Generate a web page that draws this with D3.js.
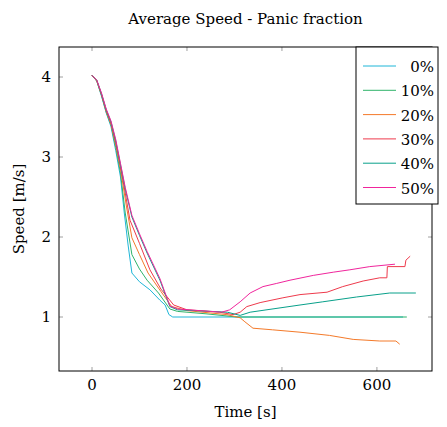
<!DOCTYPE html>
<html>
<head>
<meta charset="utf-8">
<script src="https://cdn.jsdelivr.net/npm/d3@7"></script>
<style>
  body { margin: 0; background: #fff; }
  svg text { font-family: "DejaVu Serif", serif; }
</style>
</head>
<body>
<div id="chart"></div>
<script>
var svgWidth = 447;
var svgHeight = 427;

var margin = { top: 47, right: 15, bottom: 56, left: 59 };
var width = svgWidth - margin.left - margin.right;
var height = svgHeight - margin.top - margin.bottom;

// series names and colours
var seriesNames = ["0%", "10%", "20%", "30%", "40%", "50%"];
var seriesColors = ["#1fb6d8", "#2fb36a", "#f47a2a", "#ee3a4c", "#08a08a", "#f0259c"];

var xTicks = [0, 200, 400, 600];
var yTicks = [1, 2, 3, 4];

// [time, speed]
var speed0 = [[0,4.02],[10,3.95],[20,3.76],[30,3.55],[40,3.38],[50,3.08],[60,2.75],[68,2.3],[76,1.9],[84,1.55],[100,1.44],[122,1.34],[143,1.21],[154,1.15],[162,1.03],[170,1.0],[655,1.0]];
var speed10 = [[0,4.02],[10,3.95],[20,3.77],[30,3.56],[40,3.4],[50,3.12],[60,2.8],[70,2.3],[84,1.78],[100,1.6],[116,1.46],[140,1.3],[164,1.1],[180,1.07],[240,1.04],[305,1.0],[663,1.0]];
var speed20 = [[0,4.02],[10,3.95],[20,3.78],[30,3.57],[40,3.41],[50,3.15],[60,2.85],[72,2.4],[84,1.99],[100,1.78],[118,1.55],[145,1.32],[168,1.13],[200,1.08],[250,1.05],[284,1.03],[312,0.99],[322,0.94],[339,0.86],[380,0.84],[438,0.81],[500,0.77],[550,0.72],[606,0.70],[640,0.70],[648,0.66]];
var speed30 = [[0,4.02],[10,3.96],[20,3.78],[30,3.58],[40,3.42],[50,3.18],[60,2.88],[70,2.55],[80,2.21],[100,1.92],[122,1.59],[145,1.35],[172,1.15],[200,1.09],[269,1.06],[297,1.03],[312,1.06],[326,1.13],[354,1.18],[402,1.24],[438,1.28],[495,1.31],[528,1.38],[571,1.45],[606,1.49],[621,1.49],[622,1.63],[659,1.63],[661,1.71],[670,1.76]];
var speed40 = [[0,4.02],[10,3.96],[20,3.79],[30,3.59],[40,3.44],[50,3.2],[60,2.9],[70,2.6],[84,2.25],[100,2.02],[116,1.8],[143,1.46],[164,1.13],[180,1.09],[285,1.06],[312,1.02],[333,1.06],[438,1.15],[486,1.19],[557,1.25],[627,1.3],[682,1.3]];
var speed50 = [[0,4.02],[10,3.96],[20,3.8],[30,3.6],[40,3.45],[50,3.22],[60,2.92],[70,2.62],[84,2.27],[100,2.04],[116,1.82],[143,1.48],[164,1.14],[180,1.1],[273,1.06],[290,1.09],[312,1.19],[333,1.3],[360,1.38],[389,1.42],[417,1.46],[466,1.52],[508,1.56],[543,1.59],[585,1.63],[638,1.66]];

var allSeries = [speed0, speed10, speed20, speed30, speed40, speed50];

var svg = d3.select("#chart")
  .append("svg")
  .attr("width", svgWidth)
  .attr("height", svgHeight);

var chartGroup = svg.append("g")
  .attr("transform", `translate(${margin.left}, ${margin.top})`);

var xScale = d3.scaleLinear()
  .domain([-69.5, 716])
  .range([0, width]);

var yScale = d3.scaleLinear()
  .domain([0.325, 4.375])
  .range([height, 0]);

// ticks on all four sides, pointing inwards
var tickLen = 4;
xTicks.forEach(function(t) {
  chartGroup.append("line")
    .attr("x1", xScale(t)).attr("x2", xScale(t))
    .attr("y1", height).attr("y2", height - tickLen)
    .attr("stroke", "#a0a0a0");
  chartGroup.append("line")
    .attr("x1", xScale(t)).attr("x2", xScale(t))
    .attr("y1", 0).attr("y2", tickLen)
    .attr("stroke", "#a0a0a0");
  chartGroup.append("text")
    .attr("x", xScale(t))
    .attr("y", height + 19)
    .attr("text-anchor", "middle")
    .attr("font-size", 15)
    .text(t);
});

yTicks.forEach(function(t) {
  chartGroup.append("line")
    .attr("x1", 0).attr("x2", tickLen)
    .attr("y1", yScale(t)).attr("y2", yScale(t))
    .attr("stroke", "#a0a0a0");
  chartGroup.append("line")
    .attr("x1", width).attr("x2", width - tickLen)
    .attr("y1", yScale(t)).attr("y2", yScale(t))
    .attr("stroke", "#a0a0a0");
  chartGroup.append("text")
    .attr("x", -8)
    .attr("y", yScale(t) + 5)
    .attr("text-anchor", "end")
    .attr("font-size", 15)
    .text(t);
});

var line = d3.line()
  .x(d => xScale(d[0]))
  .y(d => yScale(d[1]));

allSeries.forEach(function(s, i) {
  chartGroup.append("path")
    .datum(s)
    .attr("d", line)
    .attr("fill", "none")
    .attr("stroke", seriesColors[i])
    .attr("stroke-width", 1);
});

// frame
chartGroup.append("rect")
  .attr("x", 0).attr("y", 0)
  .attr("width", width).attr("height", height)
  .attr("fill", "none")
  .attr("stroke", "#000")
  .attr("stroke-width", 1);

// title and axis labels
svg.append("text")
  .attr("x", margin.left + width / 2)
  .attr("y", 24)
  .attr("text-anchor", "middle")
  .attr("font-size", 15)
  .text("Average Speed - Panic fraction");

svg.append("text")
  .attr("x", margin.left + width / 2)
  .attr("y", margin.top + height + 46)
  .attr("text-anchor", "middle")
  .attr("font-size", 15)
  .text("Time [s]");

svg.append("text")
  .attr("transform", `translate(24, ${margin.top + height / 2}) rotate(-90)`)
  .attr("text-anchor", "middle")
  .attr("font-size", 15)
  .text("Speed [m/s]");

// legend
var legend = svg.append("g")
  .attr("transform", "translate(356, 47)");

legend.append("rect")
  .attr("x", 0).attr("y", 0)
  .attr("width", 82).attr("height", 157)
  .attr("fill", "#fff")
  .attr("stroke", "#000");

seriesNames.forEach(function(name, i) {
  var y = 19 + i * 24.3;
  legend.append("line")
    .attr("x1", 7).attr("x2", 40)
    .attr("y1", y).attr("y2", y)
    .attr("stroke", seriesColors[i]);
  legend.append("text")
    .attr("x", 78)
    .attr("y", y + 6)
    .attr("text-anchor", "end")
    .attr("font-size", 15)
    .text(name);
});
</script>
</body>
</html>
